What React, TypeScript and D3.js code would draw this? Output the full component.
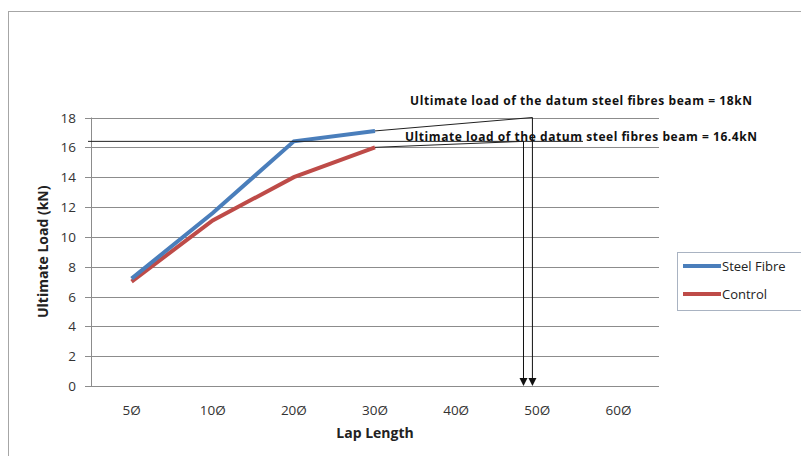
import * as d3 from "d3";

const categories = ["5Ø", "10Ø", "20Ø", "30Ø", "40Ø", "50Ø", "60Ø"];
const steelFibre = [7.2, 11.6, 16.4, 17.1];
const control = [7.0, 11.1, 14.0, 16.0];
const yTicks = [0, 2, 4, 6, 8, 10, 12, 14, 16, 18];
const seriesNames = ["Steel Fibre", "Control"];
const datumHigh = 18;
const datumLow = 16.4;
const arrowAt = [48.3, 49.4]; // positions between 40Ø and 50Ø, in category units
const noteHigh = "Ultimate load of the datum steel fibres beam  = 18kN";
const noteLow = "Ultimate load of the datum steel fibres beam  = 16.4kN";

const W = 801;
const H = 456;
const font = "'Open Sans', 'Liberation Sans', sans-serif";
const blue = "#4a7ebb";
const red = "#be4b48";
const grid = "#8c8c8c";

const App = () => {
  const left = 91;
  const right = 659;
  const x = d3.scalePoint<string>().domain(categories).range([left, right]).padding(0.5);
  const step = x.step();
  const xIdx = (i: number) => x(categories[0])! + i * step;
  const y = d3.scaleLinear().domain([0, 18]).range([386, 117.5]);

  const line = d3
    .line<number>()
    .x((_, i) => x(categories[i])!)
    .y((d) => y(d));

  const lastS = steelFibre.length - 1;
  const lastC = control.length - 1;
  // 40Ø is index 4, 50Ø index 5
  const ax = arrowAt.map((v) => xIdx(4 + (v - 40) / 10));

  const arrow = (xx: number) =>
    `M${xx - 4},${y(0) - 8}L${xx + 4},${y(0) - 8}L${xx},${y(0)}Z`;

  return (
    <svg width={W} height={H} style={{ position: "absolute", left: 0, top: 0, background: "#fff" }}>
      <rect x={8.5} y={11.5} width={W} height={H} fill="#fff" stroke="#a6a6a6" />

      {/* gridlines */}
      {yTicks.map((t) => (
        <g key={t}>
          <line x1={85} x2={right} y1={Math.round(y(t)) + 0.5} y2={Math.round(y(t)) + 0.5} stroke={grid} />
          <text
            x={76}
            y={y(t) + 5}
            textAnchor="end"
            fontFamily={font}
            fontSize={13.5}
            fill="#333"
          >
            {t}
          </text>
        </g>
      ))}
      <line x1={left + 0.5} x2={left + 0.5} y1={y(18)} y2={y(0)} stroke={grid} />

      {categories.map((c) => (
        <text
          key={c}
          x={x(c)}
          y={415}
          textAnchor="middle"
          fontFamily={font}
          fontSize={13.5}
          fill="#333"
        >
          {c}
        </text>
      ))}

      {/* series */}
      <path d={line(control) ?? ""} fill="none" stroke={red} strokeWidth={4} />
      <path d={line(steelFibre) ?? ""} fill="none" stroke={blue} strokeWidth={4} />

      {/* datum annotations */}
      <line x1={88} x2={583} y1={y(datumLow)} y2={y(datumLow)} stroke="#222" strokeWidth={1} />
      <line
        x1={x(categories[lastS])}
        y1={y(steelFibre[lastS])}
        x2={ax[1]}
        y2={y(datumHigh)}
        stroke="#222"
      />
      <line
        x1={x(categories[lastC])}
        y1={y(control[lastC])}
        x2={ax[0]}
        y2={y(datumLow)}
        stroke="#222"
      />
      <line x1={ax[1]} x2={ax[1]} y1={y(datumHigh)} y2={y(0) - 6} stroke="#111" />
      <line x1={ax[0]} x2={ax[0]} y1={y(datumLow)} y2={y(0) - 6} stroke="#111" />
      <path d={arrow(ax[0])} fill="#111" />
      <path d={arrow(ax[1])} fill="#111" />

      <text x={410} y={105} fontFamily={font} fontSize={12} fontWeight="bold" fill="#111" textLength={342}>
        {noteHigh}
      </text>
      <text x={405} y={140.5} fontFamily={font} fontSize={12} fontWeight="bold" fill="#111" textLength={352}>
        {noteLow}
      </text>

      {/* axis titles */}
      <text
        transform={`translate(48, ${(y(0) + y(18)) / 2}) rotate(-90)`}
        textAnchor="middle"
        fontFamily={font}
        fontSize={14}
        fontWeight="bold"
        fill="#222"
      >
        Ultimate Load (kN)
      </text>
      <text x={375} y={438} textAnchor="middle" fontFamily={font} fontSize={14} fontWeight="bold" fill="#222">
        Lap Length
      </text>

      {/* legend */}
      <rect x={677.5} y={252.5} width={140} height={58} fill="#fff" stroke="#a9b3c2" />
      {seriesNames.map((n, i) => (
        <g key={n}>
          <line x1={683} x2={721} y1={266 + i * 28} y2={266 + i * 28} stroke={i === 0 ? blue : red} strokeWidth={4} />
          <text x={722} y={270.5 + i * 28} fontFamily={font} fontSize={13} fill="#222">
            {n}
          </text>
        </g>
      ))}
    </svg>
  );
};

export default App;
